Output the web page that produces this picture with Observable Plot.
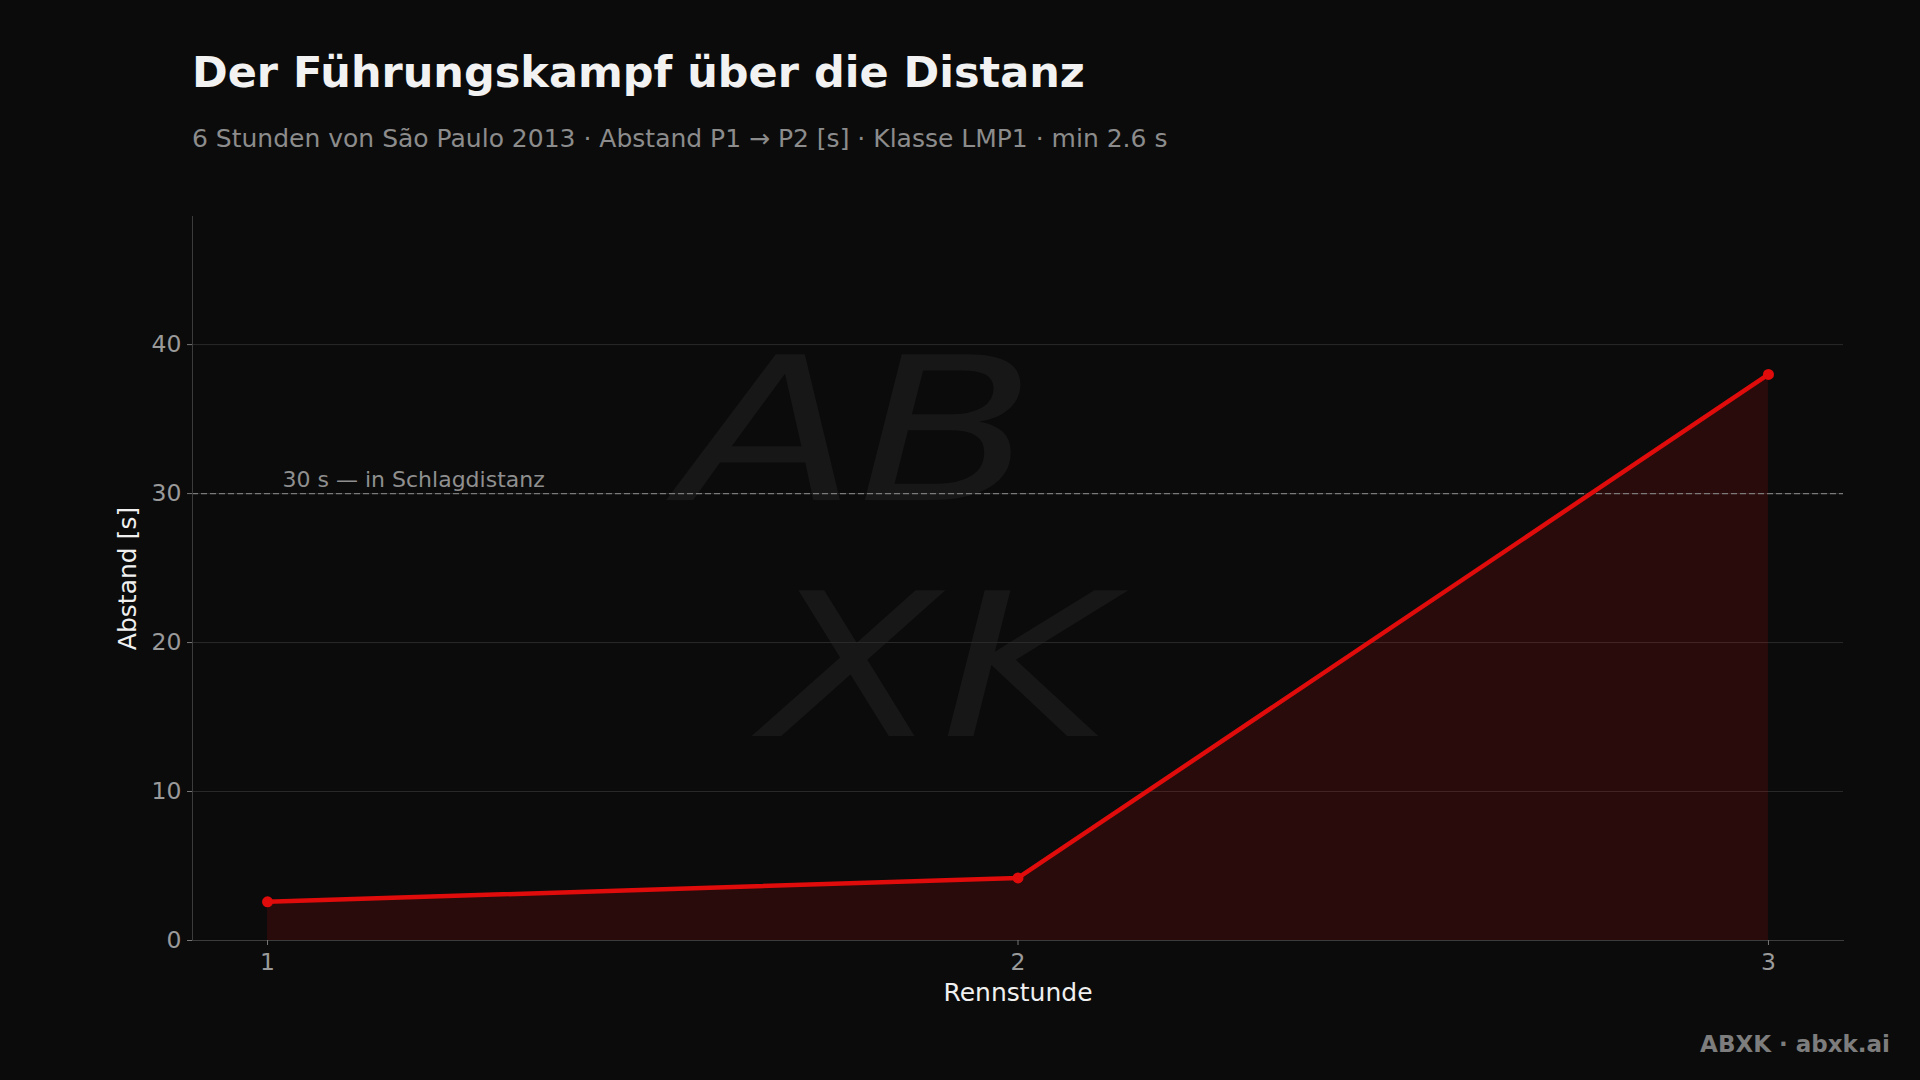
<!DOCTYPE html>
<html>
<head>
<meta charset="utf-8">
<script src="https://cdn.jsdelivr.net/npm/d3@7"></script>
<script src="https://cdn.jsdelivr.net/npm/@observablehq/plot@0.6"></script>
<style>
  html, body { margin: 0; padding: 0; background: #0b0b0b; width: 1920px; height: 1080px; overflow: hidden; font-family: "DejaVu Sans", sans-serif; }
  #title { position: absolute; left: 192px; top: 47px; font-size: 43px; font-weight: bold; color: #f2f2f2; white-space: nowrap; }
  #subtitle { position: absolute; left: 192px; top: 124px; font-size: 25px; color: #8c8c8c; white-space: nowrap; }
  #chart { position: absolute; left: 0; top: 180px; }
  #footer { position: absolute; right: 30px; top: 1031px; font-size: 23px; font-weight: bold; color: #7d7d7d; white-space: nowrap; }
  #wm { position: absolute; left: 680px; top: 313px; pointer-events: none; font-family: "DejaVu Sans", sans-serif; font-weight: 200; font-style: italic; font-size: 200px; line-height: 236px; color: #171717; white-space: nowrap; transform: scale(1.3, 1); transform-origin: left top; }
</style>
</head>
<body>
<div id="wm">AB<br>&nbsp;XK</div>
<div id="title">Der Führungskampf über die Distanz</div>
<div id="subtitle">6 Stunden von São Paulo 2013 · Abstand P1 → P2 [s] · Klasse LMP1 · min 2.6 s</div>
<div id="chart"></div>
<div id="footer">ABXK · abxk.ai</div>
<script>
const hours = [1, 2, 3];
const gaps = [2.6, 4.2, 38.0];
const yTicks = [0, 10, 20, 30, 40];
const xTicks = [1, 2, 3];
const threshold = [30];
const thresholdLabel = ["30 s — in Schlagdistanz"];
const xLabel = ["Rennstunde"];
const yLabel = ["Abstand [s]"];

const data = hours.map((h, i) => ({hour: h, gap: gaps[i]}));

const red = "#e00b0b";

const plot = Plot.plot({
  width: 1920,
  height: 860,
  marginLeft: 192,
  marginRight: 77,
  marginTop: 36,
  marginBottom: 100,
  style: { background: "transparent", fontFamily: "DejaVu Sans, sans-serif", overflow: "visible" },
  x: { domain: [0.9, 3.1] },
  y: { domain: [0, 48.6] },
  marks: [
    Plot.gridY(yTicks.filter(d => d > 0), { stroke: "#2a2a2a", strokeOpacity: 1, strokeWidth: 1 }),
    Plot.areaY(data, { x: "hour", y: "gap", fill: red, fillOpacity: 0.15 }),
    Plot.ruleY(threshold, { stroke: "#7a7a7a", strokeWidth: 1.2, strokeDasharray: "6,3" }),
    Plot.text(thresholdLabel, { x: xTicks[0], y: threshold[0], text: d => d, dx: 15, dy: -7, textAnchor: "start", lineAnchor: "bottom", fill: "#8f8f8f", fontSize: 22 }),
    Plot.frame({ anchor: "left", stroke: "#3c3c3c" }),
    Plot.frame({ anchor: "bottom", stroke: "#3c3c3c" }),
    Plot.axisY({ ticks: yTicks, tickSize: 5, tickPadding: 6, label: null, fontSize: 23.5, stroke: "#777", fill: "#9a9a9a" }),
    Plot.axisX({ ticks: xTicks, tickFormat: d3.format("d"), tickSize: 5, tickPadding: 8, label: null, fontSize: 23.5, stroke: "#777", fill: "#9a9a9a" }),
    Plot.lineY(data, { x: "hour", y: "gap", stroke: red, strokeWidth: 4.5 }),
    Plot.dot(data, { x: "hour", y: "gap", fill: red, r: 5.5 }),
    Plot.text(yLabel, { frameAnchor: "left", text: d => d, rotate: -90, textAnchor: "middle", dx: -65, fill: "#f0f0f0", fontSize: 25 }),
    Plot.text(xLabel, { frameAnchor: "bottom", text: d => d, textAnchor: "middle", dy: 60, fill: "#f0f0f0", fontSize: 25 })
  ]
});
document.getElementById("chart").appendChild(plot);
</script>
</body>
</html>
